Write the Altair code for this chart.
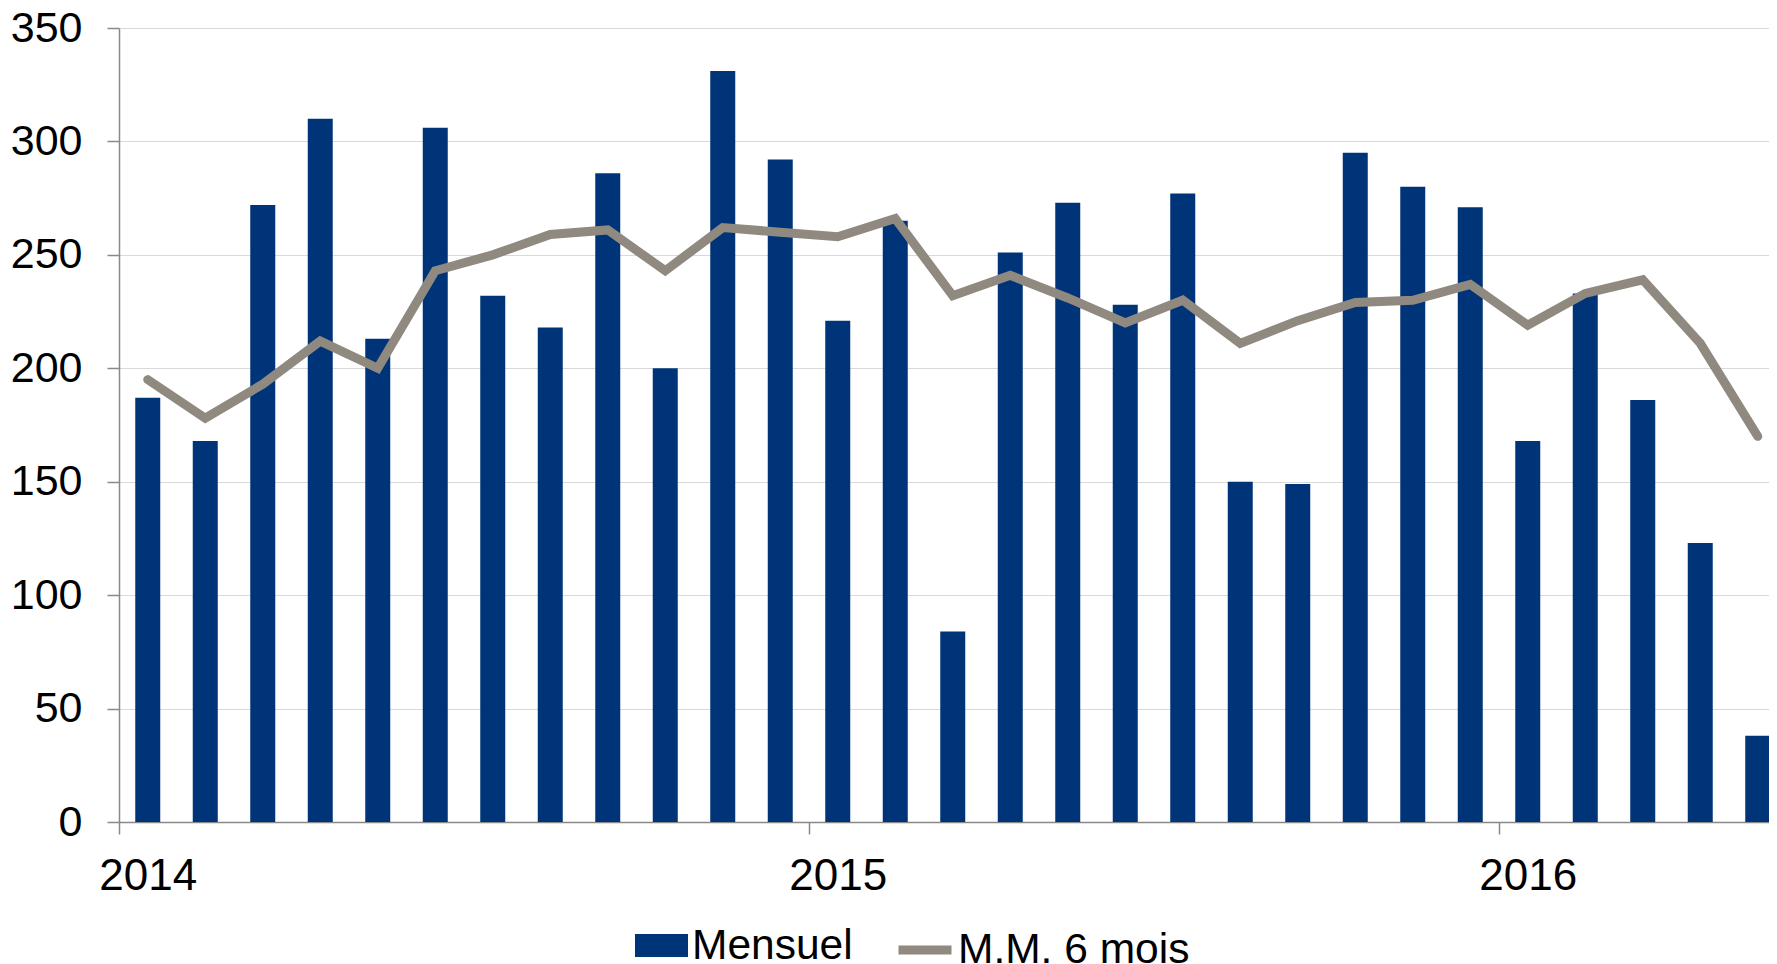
import altair as alt
import pandas as pd

# ---- data ----
months = [
    "2014-01", "2014-02", "2014-03", "2014-04", "2014-05", "2014-06",
    "2014-07", "2014-08", "2014-09", "2014-10", "2014-11", "2014-12",
    "2015-01", "2015-02", "2015-03", "2015-04", "2015-05", "2015-06",
    "2015-07", "2015-08", "2015-09", "2015-10", "2015-11", "2015-12",
    "2016-01", "2016-02", "2016-03", "2016-04", "2016-05",
]
mensuel = [187, 168, 272, 310, 213, 306, 232, 218, 286, 200, 331, 292,
           221, 265, 84, 251, 273, 228, 277, 150, 149, 295, 280, 271,
           168, 233, 186, 123, 38]
mm6 = [195, 178, 193, 212, 200, 243, 250, 259, 261, 243, 262, 260,
       258, 266, 232, 241, 231, 220, 230, 211, 221, 229, 230, 237,
       219, 233, 239, 211, 170]
years = ["2014", "2015", "2016"]
series_names = ["Mensuel", "M.M. 6 mois"]
y_ticks = [0, 50, 100, 150, 200, 250, 300, 350]

df = pd.DataFrame({"month": months, "mensuel": mensuel, "mm6": mm6})
df["pos"] = [i + 0.5 for i in range(len(months))]
df["s1"] = series_names[0]
df["s2"] = series_names[1]

FONT = "Liberation Sans"
BAR = "#003478"
LINE = "#8f897f"
AXIS = "#898989"
W, H = 1650, 794
DMAX = 1650 / 57.5

year_expr = "[" + ",".join(f"'{y}'" for y in years) + "][round(datum.value/12)]"

x = alt.X(
    "pos:Q",
    scale=alt.Scale(domain=[0, DMAX], nice=False, zero=False, padding=0),
    axis=alt.Axis(
        title=None, grid=False, values=[0, 12, 24], labelExpr=year_expr,
        domainColor=AXIS, domainWidth=1.5, tickColor=AXIS, tickWidth=1.5,
        tickSize=12, labelFont=FONT, labelFontSize=44, labelColor="#000000",
        labelPadding=20, labelOffset=28.75, labelAlign="center",
        labelBaseline="top", labelFlush=False, labelOverlap=False,
    ),
)
y_scale = alt.Scale(domain=[0, 350], nice=False, zero=True, padding=0)
y_axis = alt.Axis(
    title=None, values=y_ticks, grid=True, gridColor="#d9d9d9", gridWidth=1.2,
    domainColor=AXIS, domainWidth=1.5, tickColor=AXIS, tickWidth=1.5,
    tickSize=12, labelFont=FONT, labelFontSize=43, labelColor="#000000",
    labelPadding=25, labelFlush=False, labelOverlap=False,
)

bars = alt.Chart(df).mark_bar(size=25, clip=True).encode(
    x=x,
    y=alt.Y("mensuel:Q", scale=y_scale, axis=y_axis),
    fill=alt.Fill(
        "s1:N",
        scale=alt.Scale(domain=[series_names[0]], range=[BAR]),
        legend=alt.Legend(
            title=None, orient="none", legendX=516, legendY=891, padding=0,
            symbolType="M-1,-0.434H1V0.434H-1Z", symbolSize=2809,
            symbolStrokeWidth=0, labelFont=FONT, labelFontSize=42.5,
            labelColor="#000000", labelOffset=4, labelLimit=0,
        ),
    ),
)

line = alt.Chart(df).mark_line(strokeWidth=9, strokeCap="round").encode(
    x="pos:Q",
    y=alt.Y("mm6:Q", scale=y_scale),
    stroke=alt.Stroke(
        "s2:N",
        scale=alt.Scale(domain=[series_names[1]], range=[LINE]),
        legend=alt.Legend(
            title=None, orient="none", legendX=775, legendY=891, padding=0,
            symbolType="stroke", symbolSize=2809, symbolStrokeWidth=9,
            labelFont=FONT, labelFontSize=42.5, labelColor="#000000",
            labelOffset=2, labelLimit=0,
        ),
    ),
)

chart = alt.layer(bars, line).properties(
    width=W, height=H,
    autosize=alt.AutoSizeParams(type="none"),
    padding={"left": 111, "top": 20, "right": 0, "bottom": 142},
    background="white",
).configure_view(stroke=None)

chart.save("out.html", embed_options={"renderer": "svg", "actions": False})
